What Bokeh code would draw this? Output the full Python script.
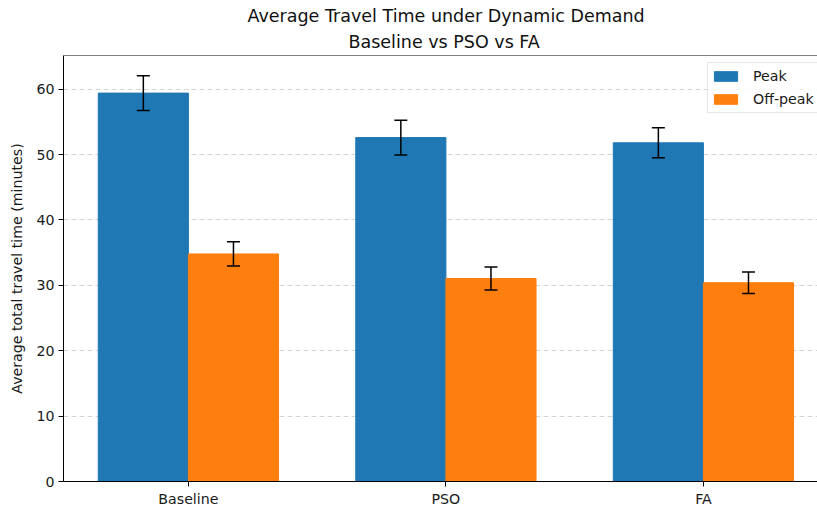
import numpy as np
from bokeh.plotting import figure
from bokeh.models import (ColumnDataSource, Whisker, TeeHead, Range1d, FixedTicker,
                          Title, Span)
from bokeh.embed import file_html
from bokeh.resources import INLINE

# Average total travel time (minutes) per strategy, with standard deviations
categories = ["Baseline", "PSO", "FA"]
peak_mean = [59.4, 52.6, 51.8]
peak_std = [2.65, 2.65, 2.3]
offpeak_mean = [34.8, 31.05, 30.4]
offpeak_std = [1.85, 1.75, 1.65]
y_ticks = [0, 10, 20, 30, 40, 50, 60]

BAR_W = 0.35
FONT = "DejaVu Sans"
TICK_SIZE = "14.2px"
TITLE_SIZE = "17.5px"

idx = np.arange(len(categories))
peak = ColumnDataSource(dict(
    x=idx - BAR_W / 2, top=peak_mean,
    upper=np.array(peak_mean) + np.array(peak_std),
    lower=np.array(peak_mean) - np.array(peak_std)))
off = ColumnDataSource(dict(
    x=idx + BAR_W / 2, top=offpeak_mean,
    upper=np.array(offpeak_mean) + np.array(offpeak_std),
    lower=np.array(offpeak_mean) - np.array(offpeak_std)))

y_top = float(np.max(peak.data["upper"])) * 1.05

p = figure(frame_width=754, frame_height=426, min_border_left=63, min_border_right=0,
           min_border_top=55, min_border_bottom=26,
           x_range=Range1d(-0.485, 2.443), y_range=Range1d(0, y_top),
           output_backend="svg", toolbar_location=None, title=None)
p.outline_line_color = None
p.background_fill_color = "white"
p.border_fill_color = "white"

p.vbar(x="x", top="top", width=BAR_W, source=peak, color="#1f77b4", legend_label="Peak")
p.vbar(x="x", top="top", width=BAR_W, source=off, color="#ff7f0e", legend_label="Off-peak")

for src in (peak, off):
    p.add_layout(Whisker(source=src, base="x", upper="upper", lower="lower",
                         level="overlay", line_color="black", line_width=1.5,
                         upper_head=TeeHead(size=13, line_color="black", line_width=1.5),
                         lower_head=TeeHead(size=13, line_color="black", line_width=1.5)))

# top spine
p.add_layout(Span(location=y_top, dimension="width", line_color="black", line_width=1))

# axes
p.xaxis.ticker = FixedTicker(ticks=list(idx))
p.xaxis.major_label_overrides = {int(i): c for i, c in zip(idx, categories)}
p.yaxis.ticker = FixedTicker(ticks=y_ticks)
p.yaxis.axis_label = "Average total travel time (minutes)"
for ax in (p.xaxis[0], p.yaxis[0]):
    ax.axis_line_color = "black"
    ax.axis_line_width = 1
    ax.major_tick_line_color = "black"
    ax.major_tick_out = 5
    ax.major_tick_in = 0
    ax.minor_tick_line_color = None
    ax.major_label_standoff = 4
    ax.major_label_text_font = FONT
    ax.major_label_text_font_size = TICK_SIZE
    ax.major_label_text_color = "#1a1a1a"
p.yaxis.axis_label_text_font = FONT
p.yaxis.axis_label_text_font_size = TICK_SIZE
p.yaxis.axis_label_text_font_style = "normal"
p.yaxis.axis_label_text_color = "#1a1a1a"
p.yaxis.axis_label_standoff = 8

p.xgrid.visible = False
p.ygrid.grid_line_color = "#b0b0b0"
p.ygrid.grid_line_alpha = 0.55
p.ygrid.grid_line_dash = "5 3"
p.ygrid.grid_line_width = 1

# two-line title, centred over the full axes box
p.add_layout(Title(text="Baseline vs PSO vs FA", align="left", offset=285,
                   text_font=FONT, text_font_size=TITLE_SIZE, text_font_style="normal",
                   text_color="#111111", standoff=8), "above")
p.add_layout(Title(text="Average Travel Time under Dynamic Demand", align="left", offset=184,
                   text_font=FONT, text_font_size=TITLE_SIZE, text_font_style="normal",
                   text_color="#111111", standoff=0), "above")

lg = p.legend[0]
lg.location = (644, 368)
lg.padding = 3
lg.margin = 0
lg.spacing = 3
lg.glyph_width = 29
lg.glyph_height = 12
lg.label_height = 20
lg.label_standoff = 13
lg.label_text_font = FONT
lg.label_text_font_size = TICK_SIZE
lg.label_text_color = "#1a1a1a"
lg.border_line_color = "#cccccc"
lg.border_line_width = 1
lg.background_fill_alpha = 0.8

open("out.html", "w").write(file_html(p, INLINE))
